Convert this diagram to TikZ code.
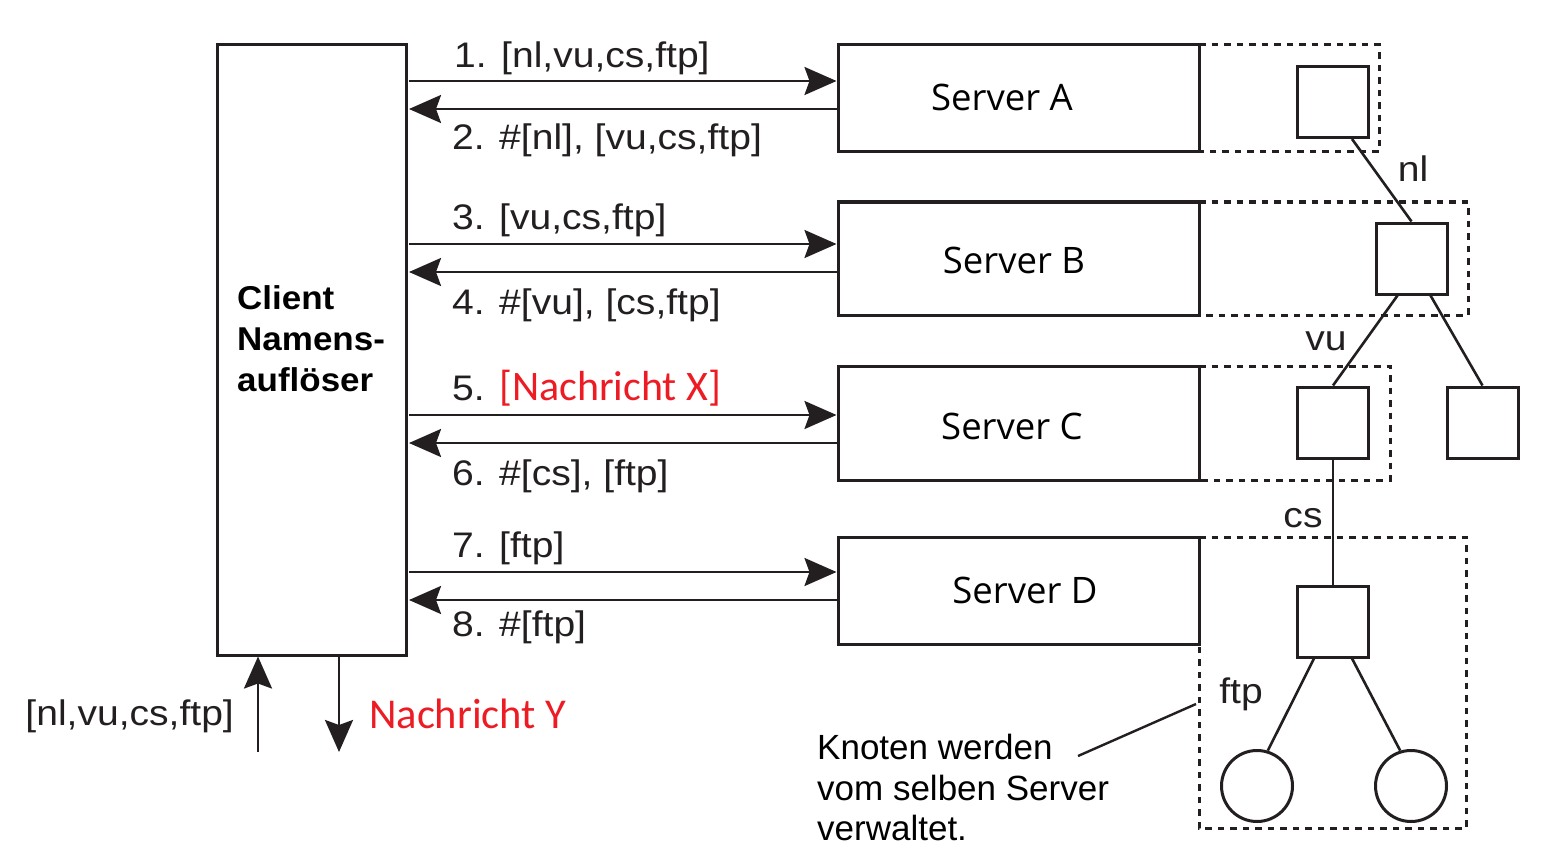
\documentclass[tikz,border=0pt]{standalone}
\usepackage{fontspec}
\setmainfont{Liberation Sans}
\newfontfamily\labfont[FakeStretch=1.1]{Liberation Sans}
\newfontfamily\boldfont[FakeStretch=1.06]{Liberation Sans}
\newfontfamily\srvfont{Open Sans}
\newfontfamily\calfont{Carlito}
\usetikzlibrary{arrows.meta}
\definecolor{ink}{RGB}{35,31,32}
\definecolor{redtxt}{RGB}{237,28,36}
\begin{document}
\begin{tikzpicture}[x=1pt,y=-1pt,
  box/.style={draw=ink,line width=3pt},
  dbox/.style={draw=ink,line width=3pt,dash pattern=on 6.5pt off 6pt},
  msg/.style={draw=ink,line width=2.6pt,-{Stealth[length=32pt,width=28pt,inset=5pt]}},
  lab/.style={anchor=west,inner sep=0pt,font=\labfont\fontsize{35.5}{40}\selectfont,text=ink},
  srv/.style={inner sep=0pt,font=\srvfont\fontsize{36.5}{42}\selectfont,text=black},
  tedge/.style={draw=ink,line width=2.6pt},
  tn/.style={draw=ink,line width=3pt,minimum size=71pt,inner sep=0pt},
  lf/.style={draw=ink,line width=3pt,circle,minimum size=71pt,inner sep=0pt},
  tl/.style={inner sep=0pt,font=\labfont\fontsize{35.5}{40}\selectfont,text=ink}
]
\useasboundingbox (0,0) rectangle (1557,861);
\fill[white] (0,0) rectangle (1557,861);

% dashed server regions
\draw[dbox] (1199,45) -- (1379,45) -- (1379,152) -- (1199,152);
\draw[dbox] (1199,202) -- (1468,202) -- (1468,315) -- (1199,315);
\draw[dbox] (1199,366) -- (1390,366) -- (1390,480) -- (1199,480);
\draw[dbox] (1199,537) -- (1466,537) -- (1466,828) -- (1199,828) -- (1199,644);

% client
\node[box,minimum width=189pt,minimum height=610pt,inner sep=0pt] (client) at (311.5,350) {};
\node[anchor=west,inner sep=0pt,align=left,font=\boldfont\bfseries\fontsize{33}{41}\selectfont,text=black] (ctext) at (237,339) {Client\\Namens-\\auflöser};

% servers
\node[box,minimum width=361pt,minimum height=107pt,inner sep=0pt] (sA) at (1018.5,98.5) {};
\node[box,minimum width=361pt,minimum height=113pt,inner sep=0pt] (sB) at (1018.5,258.5) {};
\node[box,minimum width=361pt,minimum height=114pt,inner sep=0pt] (sC) at (1018.5,423) {};
\node[box,minimum width=361pt,minimum height=107pt,inner sep=0pt] (sD) at (1018.5,590.5) {};
\node[srv] (tA) at (1002,97) {Server A};
\node[srv] (tB) at (1014,260) {Server B};
\node[srv] (tC) at (1012,426) {Server C};
\node[srv] (tD) at (1025,590) {Server D};

% messages
\foreach \n/\s/\ya/\yb in {1/sA/81/109, 2/sB/244/272, 3/sC/415/443, 4/sD/572/600}{
  \coordinate (cl\n a) at (409,\ya);
  \coordinate (cl\n b) at (409,\yb);
  \draw[msg] (cl\n a) -- (\s.west |- cl\n a);
  \draw[msg] (\s.west |- cl\n b) -- (cl\n b);
}
\node[lab] (m1) at (454,58) {1. [nl,vu,cs,ftp]};
\node[lab] (m2) at (452,140) {2. \#[nl], [vu,cs,ftp]};
\node[lab] (m3) at (452,220) {3. [vu,cs,ftp]};
\node[lab] (m4) at (452,305) {4. \#[vu], [cs,ftp]};
\node[lab] (m5) at (452,388) {5. {\calfont\fontsize{42}{46}\selectfont\color{redtxt}[Nachricht X]}};
\node[lab] (m6) at (452,476) {6. \#[cs], [ftp]};
\node[lab] (m7) at (452,548) {7. [ftp]};
\node[lab] (m8) at (452,627) {8. \#[ftp]};

% bottom in/out
\coordinate (inb) at (258,752);
\coordinate (outb) at (339,752);
\draw[msg] (inb) -- (client.south -| inb);
\draw[msg] (client.south -| outb) -- (outb);
\node[lab,anchor=east] (query) at (234,716) {[nl,vu,cs,ftp]};
\node[anchor=west,inner sep=0pt,font=\calfont\fontsize{42.5}{46}\selectfont,text=redtxt] (ny) at (369,714) {Nachricht Y};

% name tree
\node[tn] (nA) at (1333,102) {};
\node[tn] (nB) at (1411.5,258.5) {};
\node[tn] (nC) at (1333,422.5) {};
\node[tn] (nR) at (1482.5,422.5) {};
\node[tn] (nD) at (1333,621.5) {};
\node[lf] (l1) at (1257,786) {};
\node[lf] (l2) at (1411,786) {};
\draw[tedge] ([xshift=19pt]nA.south) -- (nB.north);
\draw[tedge] ([xshift=-14pt]nB.south) -- (nC.north);
\draw[tedge] ([xshift=19pt]nB.south) -- (nR.north);
\draw[tedge] (nC.south) -- (nD.north);
\draw[tedge] ([xshift=-19pt]nD.south) -- (l1.73);
\draw[tedge] ([xshift=19pt]nD.south) -- (l2.107);
\node[tl] (enl) at (1413,169) {nl};
\node[tl] (evu) at (1326,341) {vu};
\node[tl] (ecs) at (1303,518) {cs};
\node[tl] (eftp) at (1241,694) {ftp};

% annotation
\node[anchor=north west,inner sep=0pt,align=left,font=\fontsize{35}{40.5}\selectfont,text=black] (note) at (817,734) {Knoten werden\\vom selben Server\\verwaltet.};
\coordinate (pin) at (1196,704);
\draw[draw=ink,line width=2.4pt] (1078,756) -- (pin);
\end{tikzpicture}
\end{document}
